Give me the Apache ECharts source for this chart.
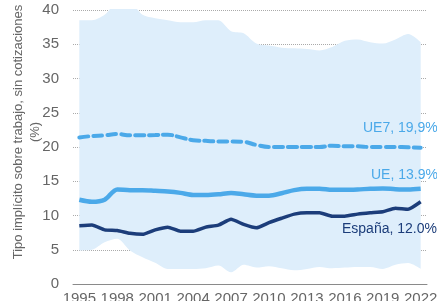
<!DOCTYPE html>
<html>
<head>
<meta charset="utf-8">
<script src="https://cdn.jsdelivr.net/npm/echarts@6/dist/echarts.min.js"></script>
<style>
html, body { margin: 0; padding: 0; background: #fff; }
#chart { width: 437px; height: 301px; }
</style>
</head>
<body>
<div id="chart"></div>
<script>
var years = [];
for (var y = 1995; y <= 2022; y++) years.push(String(y));

// banda: minimo y maximo de los paises UE
var bandLow = [4.9, 5.0, 6.1, 6.6, 4.9, 3.9, 3.1, 2.2, 2.2, 2.2, 2.3, 2.7, 1.7, 2.8,
	2.4, 2.6, 2.3, 2.0, 2.2, 2.5, 2.3, 2.4, 2.5, 2.5, 2.2, 2.8, 3.05, 2.2];
var bandHigh = [38.5, 38.5, 39.3, 41.0, 41.0, 39.3, 38.8, 38.5, 38.2, 38.2, 38.5, 38.5, 36.9, 36.6,
	35.1, 34.8, 34.5, 34.4, 34.3, 34.1, 34.6, 35.5, 35.7, 35.3, 35.1, 35.7, 36.5, 35.3];
var ue7 = [21.4, 21.6, 21.7, 21.9, 21.7, 21.7, 21.75, 21.8, 21.4, 21.0, 20.9, 20.8, 20.8, 20.75,
	20.3, 20.0, 20.0, 20.0, 20.0, 20.0, 20.2, 20.1, 20.1, 20.0, 20.0, 20.0, 19.95, 19.9];
var ue = [12.3, 12.0, 12.3, 13.8, 13.7, 13.7, 13.6, 13.5, 13.3, 13.0, 13.0, 13.1, 13.3, 13.1,
	12.9, 12.9, 13.25, 13.7, 13.9, 13.9, 13.75, 13.75, 13.8, 13.9, 13.95, 13.85, 13.8, 13.9];
var espana = [8.5, 8.6, 7.9, 7.8, 7.4, 7.25, 7.9, 8.3, 7.7, 7.7, 8.3, 8.6, 9.45, 8.7,
	8.2, 8.95, 9.6, 10.2, 10.4, 10.4, 9.9, 9.9, 10.2, 10.4, 10.55, 11.05, 10.9, 12.0];

var bandDiff = bandHigh.map(function(v, i) { return +(v - bandLow[i]).toFixed(2); });

var lightBlue = '#4ba9e9';
var navy = '#1c3d7a';
var grey = '#666666';

function endText(txt, x, y, color) {
	return {
		type: 'text', x: x, y: y, z: 100,
		style: { text: txt, fill: color, fontSize: 14, fontFamily: 'Liberation Sans', textAlign: 'left', textVerticalAlign: 'middle' }
	};
}

var myChart = echarts.init(document.getElementById('chart'));
var option = {
	animation: false,
	grid: { left: 73, right: 10, top: 10, bottom: 17, containLabel: false, outerBoundsMode: 'none' },
	xAxis: {
		type: 'category',
		data: years,
		boundaryGap: true,
		axisLine: { lineStyle: { color: '#8a8a8a', width: 1 } },
		axisTick: { interval: 0, inside: true, length: 5, lineStyle: { color: '#8a8a8a' } },
		axisLabel: { interval: 2, color: grey, fontSize: 15, margin: 7, fontFamily: 'Liberation Sans' },
		splitLine: { show: false }
	},
	yAxis: {
		type: 'value',
		min: 0,
		max: 40,
		interval: 5,
		axisLine: { show: false },
		axisTick: { show: false },
		axisLabel: { color: grey, fontSize: 15, margin: 14, fontFamily: 'Liberation Sans' },
		splitLine: { lineStyle: { color: '#aaaaaa', type: [1, 1], width: 1 } }
	},
	graphic: [
		{
			type: 'text', x: 27, y: 132, rotation: Math.PI / 2,
			style: {
				text: 'Tipo implícito sobre trabajo, sin cotizaciones\n(%)',
				fill: grey, fontSize: 13, fontFamily: 'Liberation Sans',
				align: 'center', verticalAlign: 'middle', lineHeight: 17
			}
		},
		endText('UE7, 19,9%', 363, 128, lightBlue),
		endText('UE, 13.9%', 371, 175, lightBlue),
		endText('España, 12.0%', 342, 229, navy)
	],
	series: [
		{
			name: 'min', type: 'line', stack: 'band', data: bandLow, smooth: 0.3,
			symbol: 'none', lineStyle: { opacity: 0 }, silent: true
		},
		{
			name: 'rango', type: 'line', stack: 'band', data: bandDiff, smooth: 0.3,
			symbol: 'none', lineStyle: { opacity: 0 },
			areaStyle: { color: '#deeefb', opacity: 1 }, silent: true
		},
		{
			name: 'UE7', type: 'line', data: ue7, smooth: 0.4, symbol: 'none',
			lineStyle: { color: lightBlue, width: 4, type: [9, 5], cap: 'round' }
		},
		{
			name: 'UE', type: 'line', data: ue, smooth: 0.3, symbol: 'none',
			lineStyle: { color: lightBlue, width: 4.5 }
		},
		{
			name: 'España', type: 'line', data: espana, smooth: 0.15, symbol: 'none',
			lineStyle: { color: navy, width: 3.5 }
		}
	]
};
myChart.setOption(option);
</script>
</body>
</html>
